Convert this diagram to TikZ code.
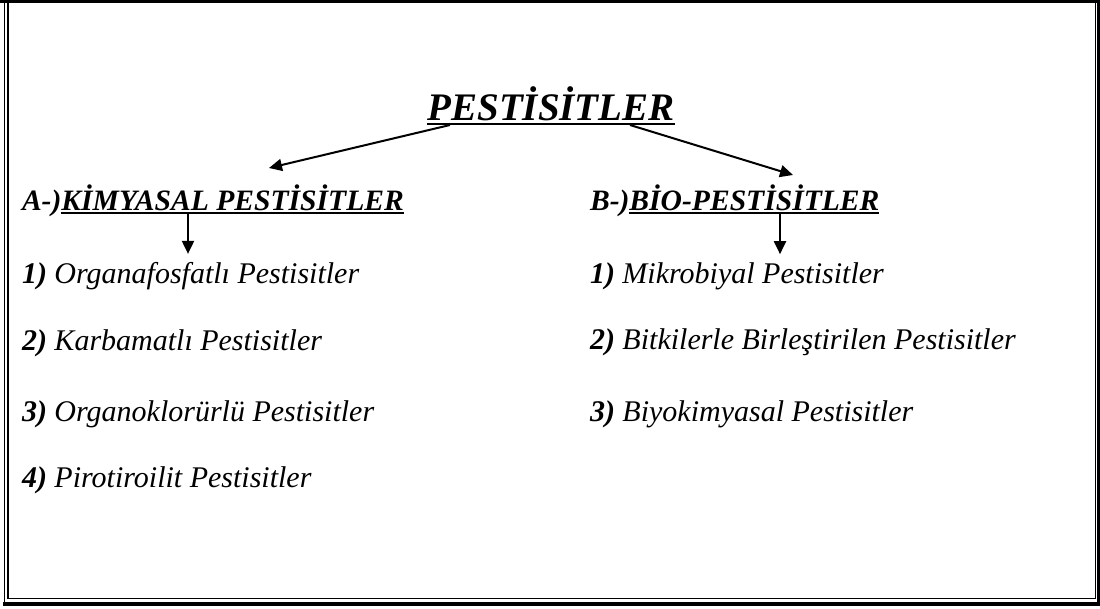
\documentclass[tikz,border=0pt]{standalone}
\usepackage{fontspec}
\setmainfont{Liberation Serif}
\usetikzlibrary{arrows.meta,positioning}

\begin{document}
\begin{tikzpicture}[x=1pt,y=-1pt,
  every node/.style={inner sep=0pt,outer sep=0pt},
  titletext/.style={anchor=base,font=\fontsize{39}{44}\selectfont\bfseries\itshape},
  headtext/.style={anchor=base west,font=\fontsize{29.6}{34}\selectfont\bfseries\itshape},
  itemtext/.style={anchor=base west,font=\fontsize{30}{34}\selectfont\itshape},
  uline/.style={line width=2.5pt},
  arrow/.style={line width=2pt,-{Triangle[length=13pt,width=12pt]}},
]
\useasboundingbox (0,0) rectangle (1100,608);
% double frame
\draw[line width=3pt] (0,1.5) -- (1100,1.5);
\draw[line width=1.5pt] (4.5,0) -- (4.5,606);
\draw[line width=2pt] (8,0) -- (8,599);
\draw[line width=1.5pt] (8,598.5) -- (1095.5,598.5) -- (1095.5,0);
\draw[line width=4pt] (3,604) -- (1098.5,604) -- (1098.5,0);

% title
\node[titletext] (title) at (551,120) {PESTİSİTLER};
\draw[uline] ([yshift=-4pt]title.base west) -- ([yshift=-4pt]title.base east);

% headings
\node[headtext] (ha) at (22,210) {A-)};
\node[headtext,anchor=base west] (hak) at (ha.base east) {KİMYASAL PESTİSİTLER};
\draw[line width=2pt] ([yshift=-2.5pt]hak.base west) -- ([yshift=-2.5pt]hak.base east);
\node[headtext] (hb) at (590,210) {B-)};
\node[headtext,anchor=base west] (hbk) at (hb.base east) {BİO-PESTİSİTLER};
\draw[line width=2pt] ([yshift=-2.5pt]hbk.base west) -- ([yshift=-2.5pt]hbk.base east);

% left list
\node[itemtext] (a1) at (22,283) {\textbf{1)} Organafosfatlı Pestisitler};
\node[itemtext] (a2) at (22,350) {\textbf{2)} Karbamatlı Pestisitler};
\node[itemtext] (a3) at (22,421) {\textbf{3)} Organoklorürlü Pestisitler};
\node[itemtext] (a4) at (22,487) {\textbf{4)} Pirotiroilit Pestisitler};
% right list
\node[itemtext] (b1) at (590,283) {\textbf{1)} Mikrobiyal Pestisitler};
\node[itemtext] (b2) at (590,349) {\textbf{2)} Bitkilerle Birleştirilen Pestisitler};
\node[itemtext] (b3) at (590,421) {\textbf{3)} Biyokimyasal Pestisitler};

% arrows
\coordinate (tl) at (450,125);
\coordinate (tr) at (630,125);
\coordinate (al) at (269,168);
\coordinate (br) at (793,175);
\coordinate (ad) at (188,212);
\coordinate (bd) at (780,212);
\draw[arrow] (tl) -- (al);
\draw[arrow] (tr) -- (br);
\draw[arrow] (ad) -- ([yshift=8pt]ad |- a1.north);
\draw[arrow] (bd) -- ([yshift=8pt]bd |- b1.north);
\end{tikzpicture}
\end{document}
